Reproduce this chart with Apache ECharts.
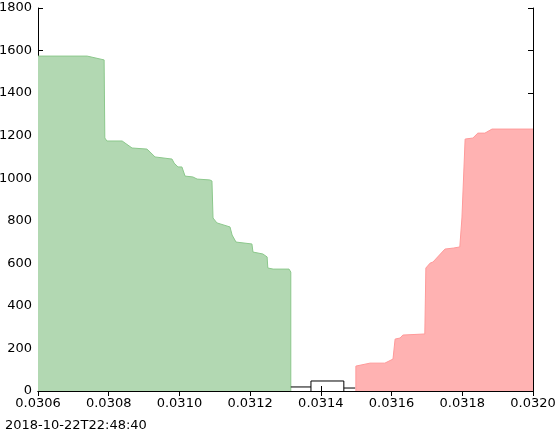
<!DOCTYPE html>
<html>
<head>
<meta charset="utf-8">
<script src="https://cdn.jsdelivr.net/npm/echarts@6/dist/echarts.min.js"></script>
<style>body{margin:0}#c{width:558px;height:430px}</style>
</head>
<body>
<div id="c"></div>
<script>
var bidPrice = [0.030600,0.030739,0.030787,0.030789,0.030795,0.030838,0.030866,0.030908,0.030914,0.030931,0.030979,0.030985,0.030996,0.031007,0.031016,0.031038,0.031050,0.031086,0.031092,0.031095,0.031106,0.031143,0.031149,0.031160,0.031205,0.031208,0.031236,0.031248,0.031250,0.031265,0.031310,0.031315,0.031315];
var bidDepth = [1574,1574,1556,1189,1175,1175,1142,1137,1128,1100,1090,1071,1053,1053,1010,1006,996,992,987,813,790,771,733,700,691,653,644,630,578,573,573,559,0];
var askPrice = [0.031499,0.031499,0.031539,0.031581,0.031604,0.031610,0.031624,0.031632,0.031694,0.031697,0.031709,0.031717,0.031751,0.031776,0.031793,0.031799,0.031808,0.031830,0.031844,0.031864,0.031884,0.032000];
var askDepth = [0,117,131,131,150,244,249,263,268,578,601,606,667,672,677,813,1184,1189,1212,1212,1231,1231];
var midPrice = [0.031315,0.031372,null,0.031372,0.031372,0.031465,0.031465,null,0.031465,0.031497];
var midDepth = [19,19,null,0,47,47,0,null,14,14];
var stamp = '2018-10-22T22:48:40';

function pairs(xs, ys) { return xs.map(function (x, i) { return [x, ys[i]]; }); }

var font = 'DejaVu Sans';
var axisBase = {
  type: 'value', axisLine: {show: true, lineStyle: {color: '#000'}},
  axisTick: {show: true, inside: true, length: 5, lineStyle: {color: '#000'}},
  splitLine: {show: false}
};
function ax(extra) { return Object.assign({}, axisBase, extra); }

var chart = echarts.init(document.getElementById('c'));
chart.setOption({
  animation: false,
  grid: {left: 38, right: 25, top: 8, bottom: 39, containLabel: false, outerBoundsMode: 'none'},
  title: {text: stamp, left: 0, top: 414, textStyle: {fontFamily: font, fontSize: 13, fontWeight: 'normal', color: '#000'}},
  xAxis: [
    ax({min: 0.0306, max: 0.032, interval: 0.0002, axisLabel: {color: '#000', fontFamily: font, fontSize: 13, margin: 6, formatter: function (v) { return v.toFixed(4); }}}),
    ax({position: 'top', min: 0.0306, max: 0.032, interval: 0.0002, axisLabel: {show: false}})
  ],
  yAxis: [
    ax({min: 0, max: 1800, interval: 200, axisLabel: {color: '#000', fontFamily: font, fontSize: 13, margin: 6, formatter: function (v) { return String(v); }}}),
    ax({position: 'right', min: 0, max: 1800, interval: 200, axisLabel: {show: false}})
  ],
  series: [
    {type: 'line', data: pairs(bidPrice, bidDepth), symbol: 'none', lineStyle: {color: '#8cc88c', width: 1}, areaStyle: {color: '#b2d8b2', opacity: 1}},
    {type: 'line', data: pairs(askPrice, askDepth), symbol: 'none', lineStyle: {color: '#ff9a9a', width: 1}, areaStyle: {color: '#ffb2b2', opacity: 1}},
    {type: 'line', data: pairs(midPrice, midDepth), symbol: 'none', connectNulls: false, lineStyle: {color: '#000', width: 1}}
  ]
});
</script>
</body>
</html>
